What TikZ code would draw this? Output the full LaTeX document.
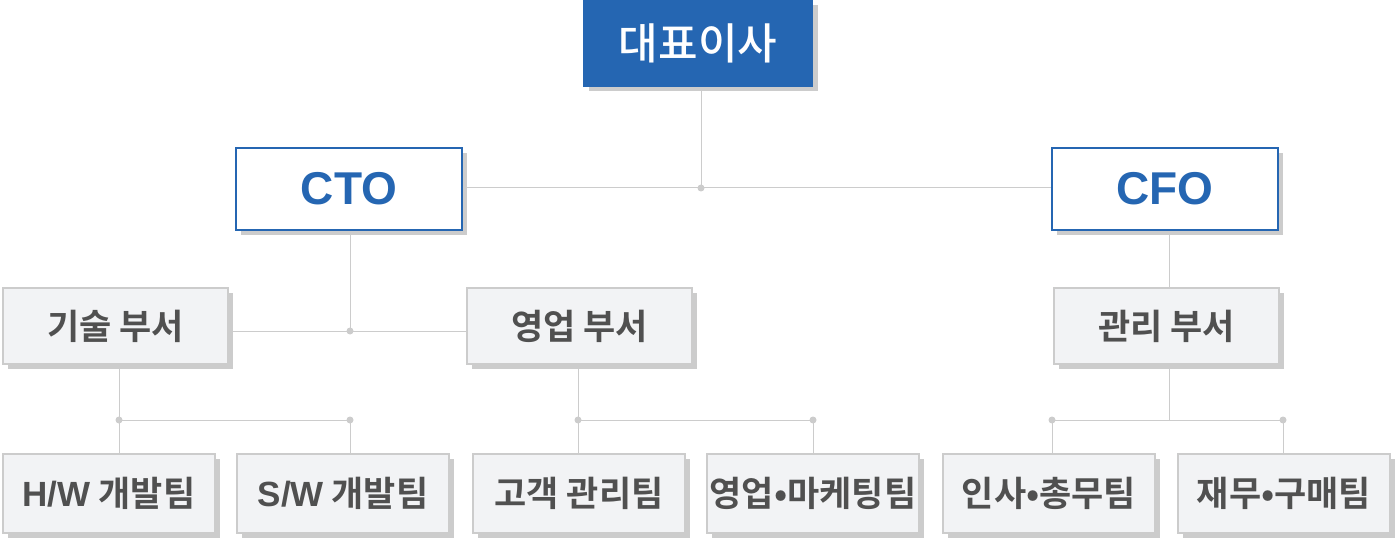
\documentclass[tikz,border=0pt]{standalone}
\usepackage{fontspec}
\setmainfont{Noto Sans CJK KR}[UprightFont=* Medium, BoldFont=* Bold]
\newfontfamily\latfont{Liberation Sans}
\usetikzlibrary{shadows,backgrounds}
\definecolor{mainblue}{HTML}{2566B2}
\definecolor{linegray}{HTML}{CCCCCC}
\definecolor{boxfill}{HTML}{F2F3F5}
\definecolor{txtgray}{HTML}{505050}
\tikzset{
  shad/.style={general shadow={fill=linegray, shadow xshift=5pt, shadow yshift=-5pt}},
  ceobox/.style={shad, fill=mainblue, draw=mainblue, line width=1pt, text=white, inner sep=0pt, anchor=north west,
    font=\fontsize{43}{43}\selectfont},
  cbox/.style={shad, fill=white, draw=mainblue, line width=2pt, text=mainblue, inner sep=0pt, anchor=north west,
    font=\latfont\bfseries\fontsize{46}{46}\selectfont},
  dbox/.style={shad, fill=boxfill, draw=linegray, line width=2pt, text=txtgray, inner sep=0pt, anchor=north west,
    font=\bfseries\fontsize{35}{35}\selectfont},
  conn/.style={draw=linegray, line width=1pt},
  jdot/.style={circle, fill=linegray, inner sep=0pt, minimum size=7pt},
}
\begin{document}
\begin{tikzpicture}[x=1pt,y=-1pt]
\useasboundingbox (0,0) rectangle (1400,540);
% top
\node[ceobox, minimum width=229pt, minimum height=86pt] (ceo) at (583,0) {대표이사};
\node[cbox, minimum width=226pt, minimum height=82pt] (cto) at (235,147) {CTO};
\node[cbox, minimum width=226pt, minimum height=82pt] (cfo) at (1051,147) {CFO};
% departments
\node[dbox, minimum width=225pt, minimum height=76pt] (d1) at (2,287) {기술 부서};
\node[dbox, minimum width=225pt, minimum height=76pt] (d2) at (466,287) {영업 부서};
\node[dbox, minimum width=225pt, minimum height=76pt] (d3) at (1053,287) {관리 부서};
% teams
\node[dbox, minimum width=212pt, minimum height=79pt] (t1) at (2,453) {{\latfont\bfseries H/W} 개발팀};
\node[dbox, minimum width=212pt, minimum height=79pt] (t2) at (236,453) {{\latfont\bfseries S/W} 개발팀};
\node[dbox, minimum width=212pt, minimum height=79pt] (t3) at (472,453) {고객 관리팀};
\node[dbox, minimum width=212pt, minimum height=79pt] (t4) at (706,453) {영업•마케팅팀};
\node[dbox, minimum width=212pt, minimum height=79pt] (t5) at (942,453) {인사•총무팀};
\node[dbox, minimum width=212pt, minimum height=79pt] (t6) at (1177,453) {재무•구매팀};
% junctions
\coordinate (j0) at (701,188);
\coordinate (j1) at (350,331);
\coordinate (j2a) at (119,420);
\coordinate (j2b) at (350,420);
\coordinate (j3a) at (578,420);
\coordinate (j3b) at (813,420);
\coordinate (j4) at (1169,420);
\coordinate (j4a) at (1052,420);
\coordinate (j4b) at (1283,420);
\begin{scope}[on background layer]
\draw[conn] (ceo.south -| j0) -- (j0);
\draw[conn] (cto.east |- j0) -- (cfo.west |- j0);
\draw[conn] (cto.south -| j1) -- (j1);
\draw[conn] (d1.east |- j1) -- (d2.west |- j1);
\draw[conn] (cfo.south -| j4) -- (d3.north -| j4);
\draw[conn] (d1.south -| j2a) -- (j2a) -- (j2b);
\draw[conn] (j2a) -- (t1.north -| j2a);
\draw[conn] (j2b) -- (t2.north -| j2b);
\draw[conn] (d2.south -| j3a) -- (j3a) -- (j3b);
\draw[conn] (j3a) -- (t3.north -| j3a);
\draw[conn] (j3b) -- (t4.north -| j3b);
\draw[conn] (d3.south -| j4) -- (j4);
\draw[conn] (j4a) -- (j4b);
\draw[conn] (j4a) -- (t5.north -| j4a);
\draw[conn] (j4b) -- (t6.north -| j4b);
\end{scope}
\node[jdot] (n0) at (j0) {};
\node[jdot] (n1) at (j1) {};
\node[jdot] (n2a) at (j2a) {};
\node[jdot] (n2b) at (j2b) {};
\node[jdot] (n3a) at (j3a) {};
\node[jdot] (n3b) at (j3b) {};
\node[jdot] (n4a) at (j4a) {};
\node[jdot] (n4b) at (j4b) {};
\end{tikzpicture}
\end{document}
